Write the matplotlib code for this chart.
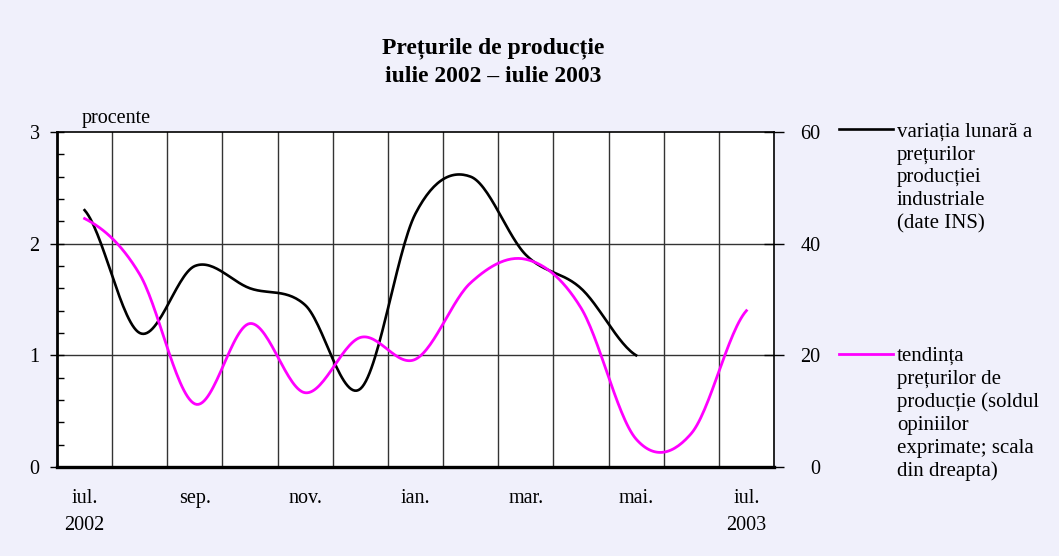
import numpy as np
import matplotlib
matplotlib.use("Agg")
import matplotlib.pyplot as plt
from matplotlib.lines import Line2D

# ---- data ----
months = ["iul.", "aug.", "sep.", "oct.", "nov.", "dec.", "ian.", "feb.",
          "mar.", "apr.", "mai.", "iun.", "iul."]
tick_labels = ["iul.\n2002", "", "sep.", "", "nov.", "", "ian.", "", "mar.",
               "", "mai.", "", "iul.\n2003"]
variatia_lunara = [2.3, 1.2, 1.8, 1.6, 1.45, 0.7, 2.27, 2.6, 1.9, 1.6, 1.0]
tendinta = [44.5, 34.5, 11.3, 25.7, 13.3, 23.2, 19.3, 33.0, 37.2, 28.5, 5.0, 6.0, 28.0]

title = "Prețurile de producție\niulie 2002 – iulie 2003"
label_black = "variația lunară a\nprețurilor\nproducției\nindustriale\n(date INS)"
label_magenta = "tendința\nprețurilor de\nproducție (soldul\nopiniilor\nexprimate; scala\ndin dreapta)"

plt.rcParams['font.family'] = ['Liberation Serif', 'DejaVu Serif']
FS = 14.5


def smooth(y, n=30):
    """Catmull-Rom (Excel-style smoothed line) through the given points."""
    y = np.asarray(y, float)
    x = np.arange(len(y), dtype=float)
    xs, ys = [], []
    for i in range(len(y) - 1):
        p0 = y[i - 1] if i > 0 else y[i]
        p1, p2 = y[i], y[i + 1]
        p3 = y[i + 2] if i + 2 < len(y) else y[i + 1]
        t = np.linspace(0, 1, n, endpoint=(i == len(y) - 2))
        m1 = (p2 - p0) / 2
        m2 = (p3 - p1) / 2
        h00 = 2 * t**3 - 3 * t**2 + 1
        h10 = t**3 - 2 * t**2 + t
        h01 = -2 * t**3 + 3 * t**2
        h11 = t**3 - t**2
        ys.append(h00 * p1 + h10 * m1 + h01 * p2 + h11 * m2)
        xs.append(x[i] + t)
    return np.concatenate(xs), np.concatenate(ys)


W, H = 1059, 556
fig = plt.figure(figsize=(W / 100, H / 100), dpi=100)
fig.patch.set_facecolor('#f0f0fb')

ax = fig.add_axes([57 / W, 1 - 467 / H, (774 - 57) / W, (467 - 132) / H])
ax.set_facecolor('white')
ax2 = ax.twinx()

ax.set_xlim(-0.5, len(months) - 0.5)
ax.set_ylim(0, 3)
ax2.set_ylim(0, 60)

# vertical grid lines at category boundaries
for b in np.arange(0.5, len(months) - 0.5, 1):
    ax.axvline(b, color='#333333', lw=1.0, zorder=1)
for yv in [1, 2]:
    ax.axhline(yv, color='#333333', lw=1.0, zorder=1)

xb, yb = smooth(variatia_lunara)
ax.plot(xb, yb, color='black', lw=1.9, zorder=3)
xm, ym = smooth(tendinta)
ax2.plot(xm, ym, color='#ff00ff', lw=2.0, zorder=3)

# spines
ax.spines['left'].set_linewidth(2.0)
ax.spines['bottom'].set_linewidth(2.4)
ax.spines['top'].set_linewidth(1.2)
ax.spines['right'].set_linewidth(1.2)
for s in ['left', 'bottom', 'top', 'right']:
    ax2.spines[s].set_visible(False)

# ticks
ax.set_xticks(range(len(months)))
ax.set_xticklabels(tick_labels, fontsize=FS, linespacing=1.58, va='top')
ax.tick_params(axis='x', length=0, pad=15.5)
ax.set_yticks([0, 1, 2, 3])
ax.set_yticks(np.arange(0, 3.01, 0.2), minor=True)
ax.tick_params(axis='y', which='major', direction='inout', length=10, width=1,
               labelsize=FS, pad=7.5)
ax.tick_params(axis='y', which='minor', direction='in', length=5, width=1)
ax2.set_yticks([0, 20, 40, 60])
ax2.tick_params(axis='y', direction='inout', length=14, width=1,
                labelsize=FS, pad=26.5)
for lab in ax2.get_yticklabels():
    lab.set_horizontalalignment('right')

ax.text(82 / W, 1 - 118 / H, "procente", transform=fig.transFigure,
        fontsize=FS, va='center', ha='left')

fig.text(493 / W, 1 - 62 / H, title, ha='center', va='center',
         fontsize=17, fontweight='bold', linespacing=1.45)

# legend
fig.add_artist(Line2D([839 / W, 893 / W], [1 - 129 / H, 1 - 129 / H],
                      color='black', lw=1.9, transform=fig.transFigure))
fig.add_artist(Line2D([839 / W, 893 / W], [1 - 354 / H, 1 - 354 / H],
                      color='#ff00ff', lw=2.0, transform=fig.transFigure))
fig.text(897 / W, 1 - 123 / H, label_black, ha='left', va='top',
         fontsize=15, linespacing=1.264)
fig.text(897 / W, 1 - 347 / H, label_magenta, ha='left', va='top',
         fontsize=15, linespacing=1.264)

fig.savefig('out.png', dpi=100, facecolor=fig.get_facecolor())
